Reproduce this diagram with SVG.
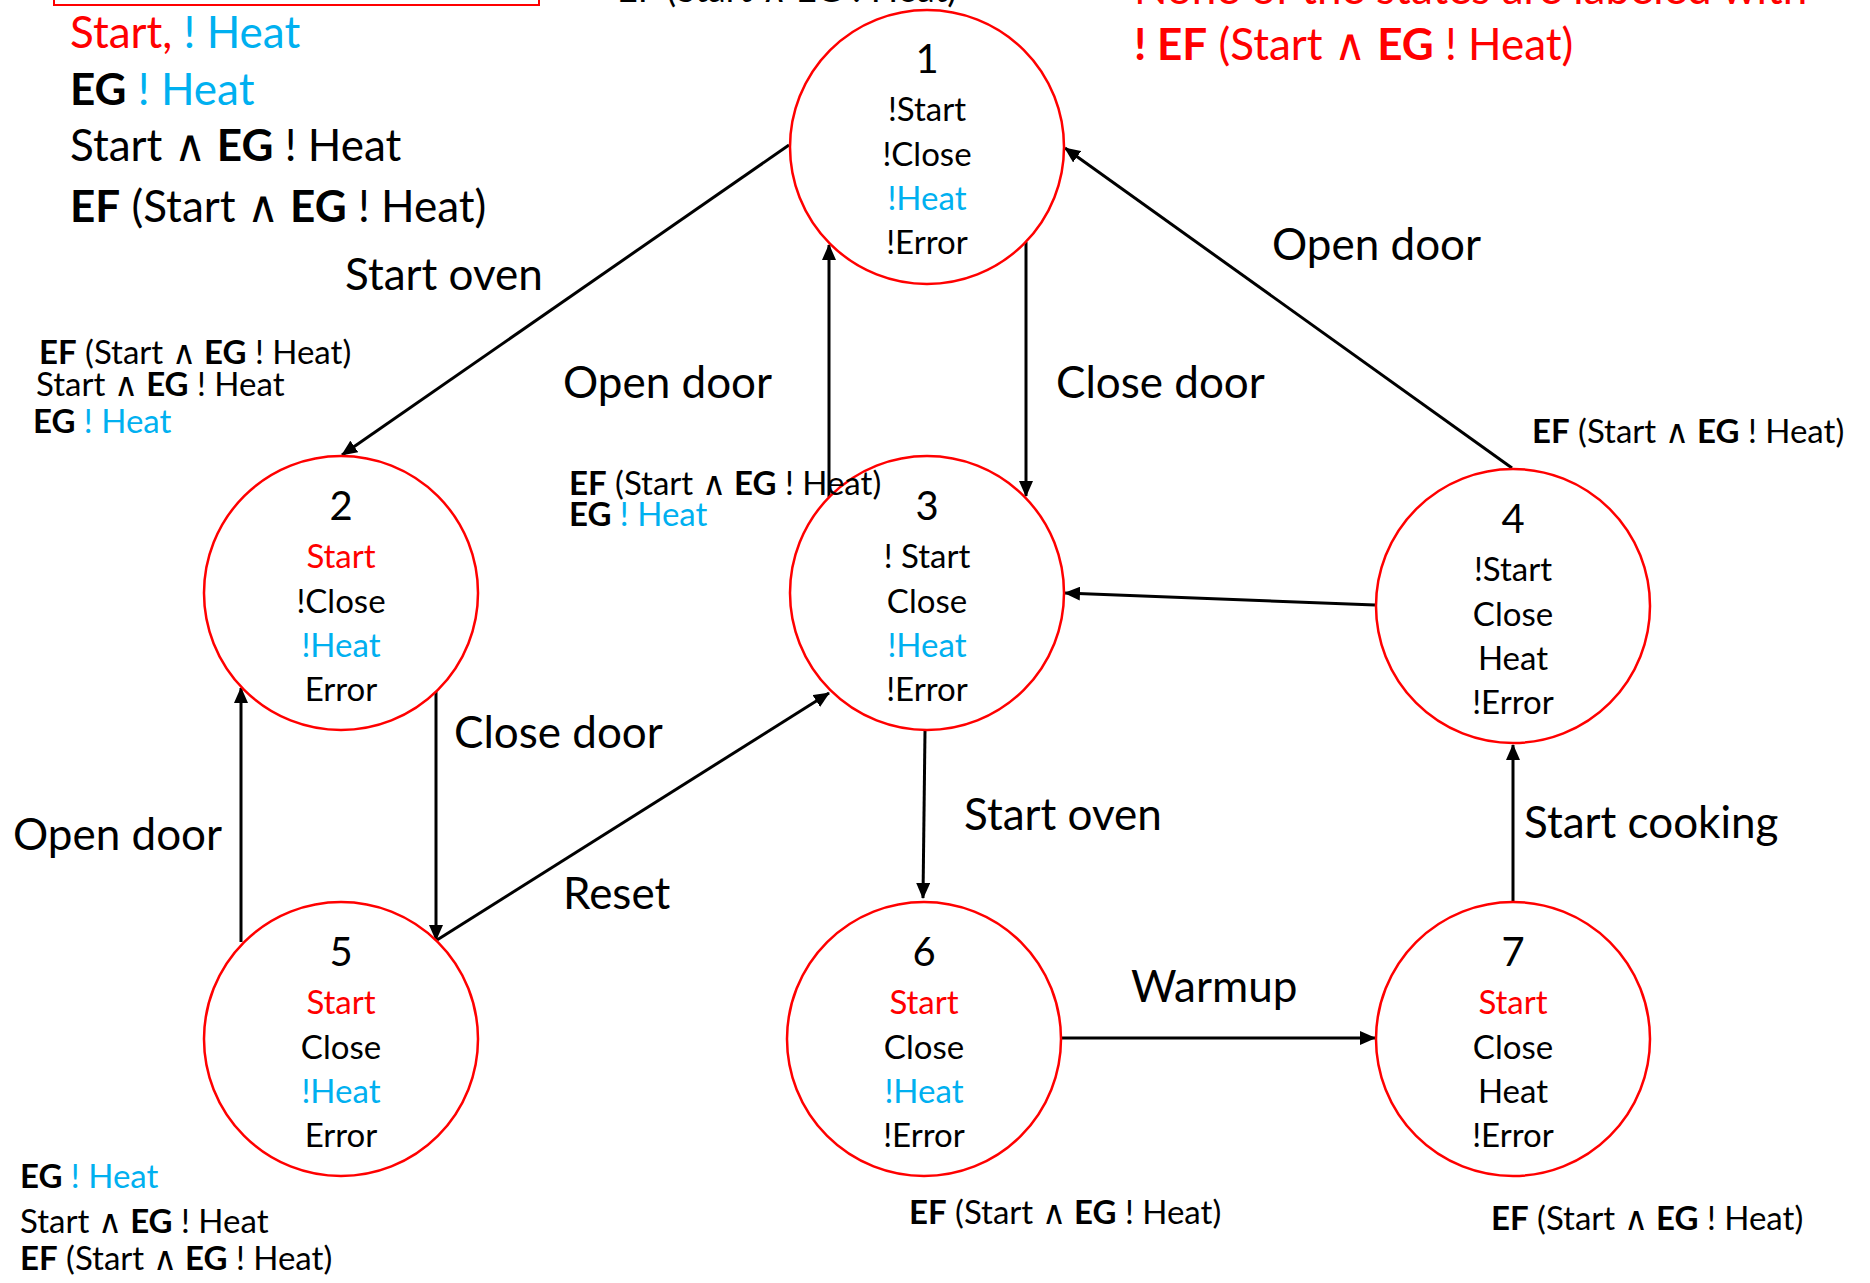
<svg xmlns="http://www.w3.org/2000/svg" width="1870" height="1283" viewBox="0 0 1870 1283">
  <style>
    text { font-family: Lato, "DejaVu Sans", sans-serif; fill: #000; }
    .node circle { fill: #fff; stroke: #ff0000; stroke-width: 2.5; }
    .num { font-size: 40px; text-anchor: middle; }
    .prop { font-size: 33px; text-anchor: middle; }
    .lbl { font-size: 44px; }
    .big { font-size: 44px; }
    .ann { font-size: 33px; }
    .b { font-weight: bold; }
    .and { font-family: "DejaVu Sans", sans-serif; font-weight: 200; }
    .red { fill: #ff0000; }
    .blue { fill: #00b0f0; }
    #edges line { stroke: #000; stroke-width: 3; marker-end: url(#arrow); }
  </style>
  <defs>
    <marker id="arrow" markerUnits="userSpaceOnUse" markerWidth="16" markerHeight="14" refX="15" refY="7" orient="auto">
      <path d="M0,0 L16,7 L0,14 Z" fill="#000"/>
    </marker>
  </defs>

  <rect width="1870" height="1283" fill="#fff"/>

  <!-- headings along the top edge -->
  <rect x="54" y="-60" width="485" height="65" fill="none" stroke="#ff0000" stroke-width="2"/>
  <text x="617" y="2" style="font-size:36px">EF (Start <tspan class="and">∧</tspan> EG ! Heat)</text>
  <text class="big red" x="1134" y="4">None of the states are labeled with</text>
  <text class="big red" x="1134" y="60"><tspan class="b">! EF</tspan> (Start <tspan class="and">∧</tspan> <tspan class="b">EG</tspan> ! Heat)</text>

  <!-- legend at top left -->
  <text class="big" x="70" y="48"><tspan class="red">Start,</tspan><tspan class="blue"> ! Heat</tspan></text>
  <text class="big" x="70" y="105"><tspan class="b">EG</tspan><tspan class="blue"> ! Heat</tspan></text>
  <text class="big" x="70" y="161">Start <tspan class="and">∧</tspan> <tspan class="b">EG</tspan> ! Heat</text>
  <text class="big" x="70" y="222"><tspan class="b">EF</tspan> (Start <tspan class="and">∧</tspan> <tspan class="b">EG</tspan> ! Heat)</text>

  <!-- transitions -->
  <g id="edges">
    <line x1="789" y1="145" x2="342" y2="455"/>
    <line x1="829" y1="497" x2="829" y2="245"/>
    <line x1="1026" y1="242" x2="1026" y2="496"/>
    <line x1="1512" y1="468" x2="1065" y2="148"/>
    <line x1="1375" y1="605" x2="1065" y2="593"/>
    <line x1="925" y1="731" x2="923" y2="898"/>
    <line x1="1061" y1="1038" x2="1375" y2="1038"/>
    <line x1="1513" y1="902" x2="1513" y2="745"/>
    <line x1="241" y1="942" x2="241" y2="688"/>
    <line x1="436" y1="690" x2="436" y2="940"/>
    <line x1="437" y1="940" x2="829" y2="693"/>
  </g>

  <!-- transition labels -->
  <g id="edge-labels">
    <text class="lbl" x="345" y="290">Start oven</text>
    <text class="lbl" x="563" y="398">Open door</text>
    <text class="lbl" x="1056" y="398">Close door</text>
    <text class="lbl" x="1272" y="260">Open door</text>
    <text class="lbl" x="454" y="748">Close door</text>
    <text class="lbl" x="13" y="850">Open door</text>
    <text class="lbl" x="563" y="909">Reset</text>
    <text class="lbl" x="964" y="830">Start oven</text>
    <text class="lbl" x="1524" y="838">Start cooking</text>
    <text class="lbl" x="1131" y="1002">Warmup</text>
  </g>

  <!-- states -->
  <g id="node1" class="node">
    <circle cx="927" cy="147" r="137"/>
    <text class="num" x="927" y="73">1</text>
    <text class="prop" x="927" y="121">!Start</text>
    <text class="prop" x="927" y="166">!Close</text>
    <text class="prop blue" x="927" y="210">!Heat</text>
    <text class="prop" x="927" y="254">!Error</text>
  </g>
  <g id="node2" class="node">
    <circle cx="341" cy="593" r="137"/>
    <text class="num" x="341" y="520">2</text>
    <text class="prop red" x="341" y="568">Start</text>
    <text class="prop" x="341" y="613">!Close</text>
    <text class="prop blue" x="341" y="657">!Heat</text>
    <text class="prop" x="341" y="701">Error</text>
  </g>
  <g id="node3" class="node">
    <circle cx="927" cy="593" r="137"/>
    <text class="num" x="927" y="520">3</text>
    <text class="prop" x="927" y="568">! Start</text>
    <text class="prop" x="927" y="613">Close</text>
    <text class="prop blue" x="927" y="657">!Heat</text>
    <text class="prop" x="927" y="701">!Error</text>
  </g>
  <g id="node4" class="node">
    <circle cx="1513" cy="606" r="137"/>
    <text class="num" x="1513" y="533">4</text>
    <text class="prop" x="1513" y="581">!Start</text>
    <text class="prop" x="1513" y="626">Close</text>
    <text class="prop" x="1513" y="670">Heat</text>
    <text class="prop" x="1513" y="714">!Error</text>
  </g>
  <g id="node5" class="node">
    <circle cx="341" cy="1039" r="137"/>
    <text class="num" x="341" y="966">5</text>
    <text class="prop red" x="341" y="1014">Start</text>
    <text class="prop" x="341" y="1059">Close</text>
    <text class="prop blue" x="341" y="1103">!Heat</text>
    <text class="prop" x="341" y="1147">Error</text>
  </g>
  <g id="node6" class="node">
    <circle cx="924" cy="1039" r="137"/>
    <text class="num" x="924" y="966">6</text>
    <text class="prop red" x="924" y="1014">Start</text>
    <text class="prop" x="924" y="1059">Close</text>
    <text class="prop blue" x="924" y="1103">!Heat</text>
    <text class="prop" x="924" y="1147">!Error</text>
  </g>
  <g id="node7" class="node">
    <circle cx="1513" cy="1039" r="137"/>
    <text class="num" x="1513" y="966">7</text>
    <text class="prop red" x="1513" y="1014">Start</text>
    <text class="prop" x="1513" y="1059">Close</text>
    <text class="prop" x="1513" y="1103">Heat</text>
    <text class="prop" x="1513" y="1147">!Error</text>
  </g>

  <!-- formulas holding in each state -->
  <g id="annotations">
    <text class="ann" x="39" y="364"><tspan class="b">EF</tspan> (Start <tspan class="and">∧</tspan> <tspan class="b">EG</tspan> ! Heat)</text>
    <text class="ann" x="36" y="396">Start <tspan class="and">∧</tspan> <tspan class="b">EG</tspan> ! Heat</text>
    <text class="ann" x="33" y="433"><tspan class="b">EG</tspan><tspan class="blue"> ! Heat</tspan></text>

    <text class="ann" x="569" y="495"><tspan class="b">EF</tspan> (Start <tspan class="and">∧</tspan> <tspan class="b">EG</tspan> ! Heat)</text>
    <text class="ann" x="569" y="526"><tspan class="b">EG</tspan><tspan class="blue"> ! Heat</tspan></text>

    <text class="ann" x="1532" y="443"><tspan class="b">EF</tspan> (Start <tspan class="and">∧</tspan> <tspan class="b">EG</tspan> ! Heat)</text>

    <text class="ann" x="20" y="1188"><tspan class="b">EG</tspan><tspan class="blue"> ! Heat</tspan></text>
    <text class="ann" x="20" y="1233">Start <tspan class="and">∧</tspan> <tspan class="b">EG</tspan> ! Heat</text>
    <text class="ann" x="20" y="1270"><tspan class="b">EF</tspan> (Start <tspan class="and">∧</tspan> <tspan class="b">EG</tspan> ! Heat)</text>

    <text class="ann" x="909" y="1224"><tspan class="b">EF</tspan> (Start <tspan class="and">∧</tspan> <tspan class="b">EG</tspan> ! Heat)</text>
    <text class="ann" x="1491" y="1230"><tspan class="b">EF</tspan> (Start <tspan class="and">∧</tspan> <tspan class="b">EG</tspan> ! Heat)</text>
  </g>
</svg>
